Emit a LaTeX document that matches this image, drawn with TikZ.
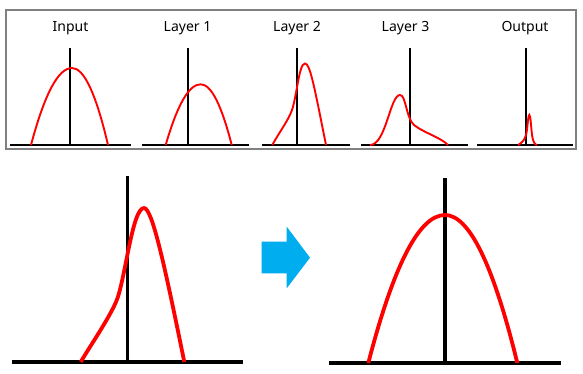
\documentclass[tikz,border=0pt]{standalone}
\usepackage{fontspec}
\setmainfont{Noto Sans}
\definecolor{arrowblue}{HTML}{00AEEF}
\definecolor{boxgray}{HTML}{808080}
\begin{document}
\begin{tikzpicture}[x=1pt,y=-1pt,
  lbl/.style={font=\fontsize{14}{16}\selectfont, inner sep=0pt, anchor=center},
  axsmall/.style={draw=black, line width=2pt},
  curvesmall/.style={draw=red, line width=1.9pt},
  axbig/.style={draw=black, line width=3.4pt},
  curvebig/.style={draw=red, line width=3.8pt, line join=round},
  frame/.style={draw=boxgray, line width=1.4pt}]
\useasboundingbox (0,0) rectangle (583,374);
% frame
\draw[frame] (6,10) rectangle (576,149);
% labels
\node[lbl] (lin) at (70.5,28) {Input};
\node[lbl] (l1) at (187.5,28) {Layer 1};
\node[lbl] (l2) at (297,28) {Layer 2};
\node[lbl] (l3) at (405.5,28) {Layer 3};
\node[lbl] (lout) at (525,28) {Output};
% small axes
\draw[axsmall] (10,145) -- (131,145);
\draw[axsmall] (70,48) -- (70,145);
\draw[axsmall] (142,145) -- (249,145);
\draw[axsmall] (188.3,48) -- (188.3,145);
\draw[axsmall] (262,145) -- (350,145);
\draw[axsmall] (296.7,48) -- (296.7,145);
\draw[axsmall] (361,145) -- (467.5,145);
\draw[axsmall] (410,48) -- (410,145);
\draw[axsmall] (477,145) -- (573,145);
\draw[axsmall] (526,48) -- (526,145);
% small curves
\draw[curvesmall] (31,145) .. controls (44.7,93.7) and (58.3,68) .. (72,68)
  .. controls (84,68) and (96,93.7) .. (108,145);
\draw[curvesmall] (165.7,145) .. controls (177.4,104.5) and (189,84.3) .. (200.7,84.3)
  .. controls (211,84.3) and (221.4,104.5) .. (231.7,145);
\draw[curvesmall] (272.3,145) .. controls (280,131) and (288,121) .. (292,110)
  .. controls (297,95) and (299,63.5) .. (305,63.5)
  .. controls (310,63.5) and (314,85) .. (326,145);
\draw[curvesmall] (370,145) .. controls (386,145) and (390,95) .. (400,95)
  .. controls (406,95) and (406,118) .. (414,125)
  .. controls (424,133) and (440,137) .. (448,145);
\draw[curvesmall] (518,145) .. controls (522,143) and (525.5,140) .. (527,130)
  .. controls (528,120) and (528.5,115) .. (529.3,115)
  .. controls (530.5,115) and (531,126) .. (532,135)
  .. controls (533,142) and (535,145) .. (537,145);
% big left
\draw[axbig] (11.5,362) -- (243,362);
\draw[axbig] (127.7,176) -- (127.7,362);
\draw[curvebig] (80.7,362) .. controls (92,343) and (108,320) .. (116,302)
  .. controls (125,282) and (132,208) .. (144,208)
  .. controls (152,208) and (164,262) .. (184.3,362);
% arrow
\fill[arrowblue] (261.7,241.7) -- (286.7,241.7) -- (286.7,226.7) -- (310,257.7)
  -- (286.7,288.3) -- (286.7,273.3) -- (261.7,273.3) -- cycle;
% big right
\draw[axbig] (329.3,363) -- (560.7,363);
\draw[axbig] (445,178.3) -- (445,363);
\draw[curvebig] (368.3,363) .. controls (393.9,264.3) and (419.4,215) .. (445,215)
  .. controls (469.1,215) and (493.2,264.3) .. (517.3,363);
\end{tikzpicture}
\end{document}
